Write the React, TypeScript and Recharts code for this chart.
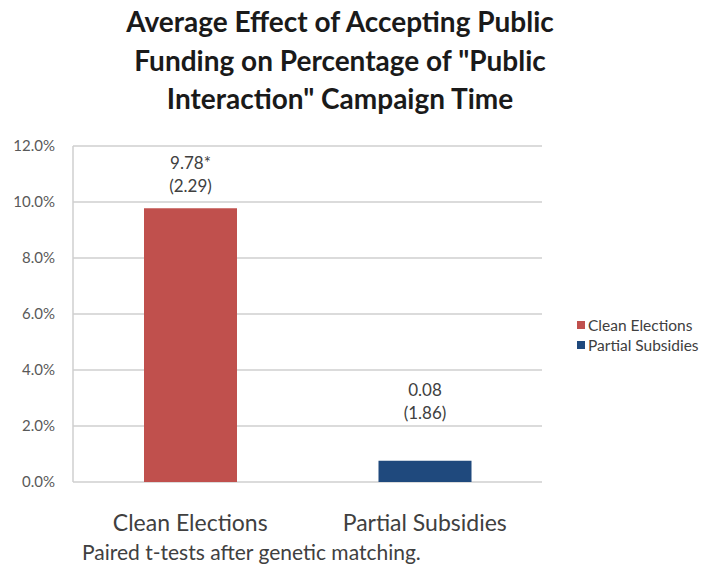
import React from 'react';
import { BarChart, Bar, XAxis, YAxis, CartesianGrid, Cell } from 'recharts';

const categories = ['Clean Elections', 'Partial Subsidies'];
const effects = [9.78, 0.76];
const estimateLabels = ['9.78*', '0.08'];
const seLabels = ['(2.29)', '(1.86)'];
const yTicks = [0, 2, 4, 6, 8, 10, 12];

const COLORS = ['#C0504D', '#1F497D'];
const FONT = 'Lato, "Open Sans", sans-serif';
// how far above each bar top the two label lines sit
const LABEL_LIFT = [46, 71];

const data = categories.map((name, i) => ({ name, value: effects[i] }));

const renderLabel = (props: any) => {
  const { x, y, width, index } = props;
  const cx = x + width / 2;
  const lift = LABEL_LIFT[index] ?? 40;
  return (
    <g>
      <text x={cx} y={y - lift} textAnchor="middle" dominantBaseline="central" fontSize={17} fill="#404040" fontFamily={FONT}>
        {estimateLabels[index]}
      </text>
      <text x={cx} y={y - lift + 23} textAnchor="middle" dominantBaseline="central" fontSize={17} fill="#404040" fontFamily={FONT}>
        {seLabels[index]}
      </text>
    </g>
  );
};

export default function App() {
  return (
    <div style={{ position: 'absolute', left: 0, top: 0, width: 707, height: 569, background: '#fff', fontFamily: FONT }}>
      <div
        style={{
          position: 'absolute',
          left: 40,
          top: 2,
          width: 600,
          textAlign: 'center',
          fontWeight: 700,
          fontSize: 28,
          lineHeight: '38.5px',
          color: '#1a1a1a',
        }}
      >
        Average Effect of Accepting Public
        <br />
        Funding on Percentage of "Public
        <br />
        Interaction" Campaign Time
      </div>

      <BarChart width={707} height={569} data={data} margin={{ top: 146, right: 165, bottom: 57, left: 13 }}>
        <CartesianGrid vertical={false} stroke="#cfcfcf" strokeWidth={1.5} />
        <XAxis
          dataKey="name"
          height={30}
          axisLine={false}
          tickLine={false}
          tickMargin={27}
          tick={{ fontSize: 23, fill: '#404040', fontFamily: FONT }}
        />
        <YAxis
          width={60}
          domain={[0, 12]}
          ticks={yTicks}
          axisLine={{ stroke: '#cfcfcf', strokeWidth: 1.5 }}
          tickLine={false}
          tickMargin={12}
          tickFormatter={(v: number) => `${v.toFixed(1)}%`}
          tick={{ fontSize: 15, fill: '#595959', fontFamily: FONT }}
        />
        <Bar dataKey="value" barSize={93} isAnimationActive={false} label={renderLabel}>
          {data.map((entry, index) => (
            <Cell key={`cell-${index}`} fill={COLORS[index % COLORS.length]} />
          ))}
        </Bar>
      </BarChart>

      <div style={{ position: 'absolute', left: 577, top: 315 }}>
        {categories.map((name, i) => (
          <div key={name} style={{ display: 'flex', alignItems: 'center', height: 20, fontSize: 15.5, color: '#404040', whiteSpace: 'nowrap' }}>
            <span style={{ width: 8, height: 8, background: COLORS[i], marginRight: 3 }} />
            {name}
          </div>
        ))}
      </div>

      <div style={{ position: 'absolute', left: 82, top: 540, fontSize: 21, lineHeight: '24px', color: '#404040' }}>
        Paired t-tests after genetic matching.
      </div>
    </div>
  );
}
